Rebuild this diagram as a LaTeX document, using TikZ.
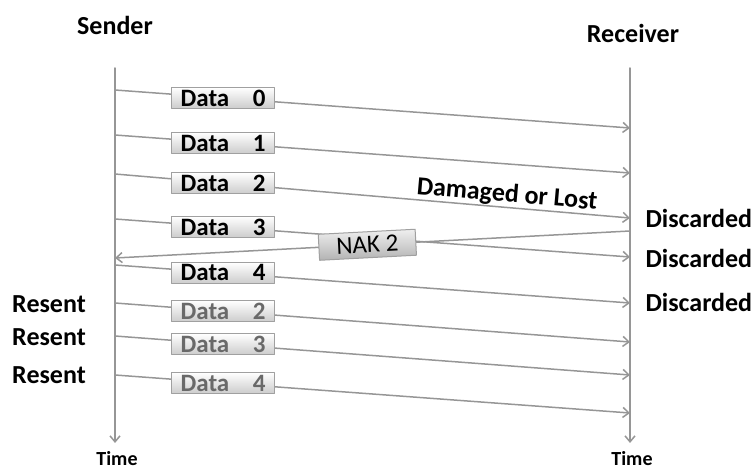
\documentclass[tikz,border=0pt]{standalone}
\usepackage{fontspec}
\setmainfont{Carlito}
\usetikzlibrary{arrows.meta}
\definecolor{linegray}{RGB}{150,150,150}
\definecolor{boxgray}{RGB}{160,160,160}
\definecolor{resentgray}{RGB}{105,105,105}
\begin{document}
\begin{tikzpicture}[x=1pt,y=-1pt,line join=round,line cap=round,>={Straight Barb[length=6pt,width=10pt]},
	msgline/.style={draw=linegray,line width=1.5pt},
	databox/.style={draw=boxgray,line width=1pt,top color=white,bottom color=black!20,minimum width=103pt,minimum height=21pt,inner sep=0pt,font=\fontsize{25}{28}\selectfont\bfseries},
	nakbox/.style={draw=boxgray,line width=1pt,top color=black!6,bottom color=black!30,minimum width=97pt,minimum height=26pt,inner sep=0pt,font=\fontsize{25}{28}\selectfont},
	lbl/.style={font=\fontsize{26}{29}\selectfont\bfseries}]
	\useasboundingbox (0,0) rectangle (753,470);
	% time lines
	\coordinate (stop) at (115,68);
	\coordinate (sbot) at (115,443);
	\coordinate (rtop) at (630,68);
	\coordinate (rbot) at (630,443);
	\draw[msgline,->] (stop)--(sbot);
	\draw[msgline,->] (rtop)--(rbot);
	\node[lbl] (sender) at (115,25) {Sender};
	\node[lbl] (receiver) at (633,33) {Receiver};
	\node[lbl,font=\fontsize{20}{22}\selectfont\bfseries,anchor=base,inner sep=0pt] (stime) at (117,465) {Time};
	\node[lbl,font=\fontsize{20}{22}\selectfont\bfseries,anchor=base,inner sep=0pt] (rtime) at (632,465) {Time};
	% data frames
	\foreach \i/\ys/\yr/\num/\tc in {0/90/128/0/black,1/135/173/1/black,2/174/218/2/black,3/219/257/3/black,4/265/303/4/black,5/303/342/2/resentgray,6/336/375/3/resentgray,7/375/413/4/resentgray}
	{
		\coordinate (s\i) at (115,\ys);
		\coordinate (r\i) at (630,\yr);
		\draw[msgline,->] (s\i)--(r\i) node[databox,text=\tc,pos=0.21] (d\i) {\makebox[85pt]{Data\hfill\num}};
	}
	% negative acknowledgement
	\coordinate (rnak) at (630,231);
	\coordinate (snak) at (115,258);
	\draw[msgline,->] (rnak)--(snak) node[nakbox,pos=0.51,sloped] (nak) {NAK 2};
	\node[lbl,rotate=-5] (lost) at (507,195) {Damaged or Lost};
	\foreach \y in {218,258,302}
	\node[lbl,anchor=west] at (642,\y) {Discarded};
	\foreach \y in {304,337,375}
	\node[lbl] at (49,\y) {Resent};
\end{tikzpicture}
\end{document}
